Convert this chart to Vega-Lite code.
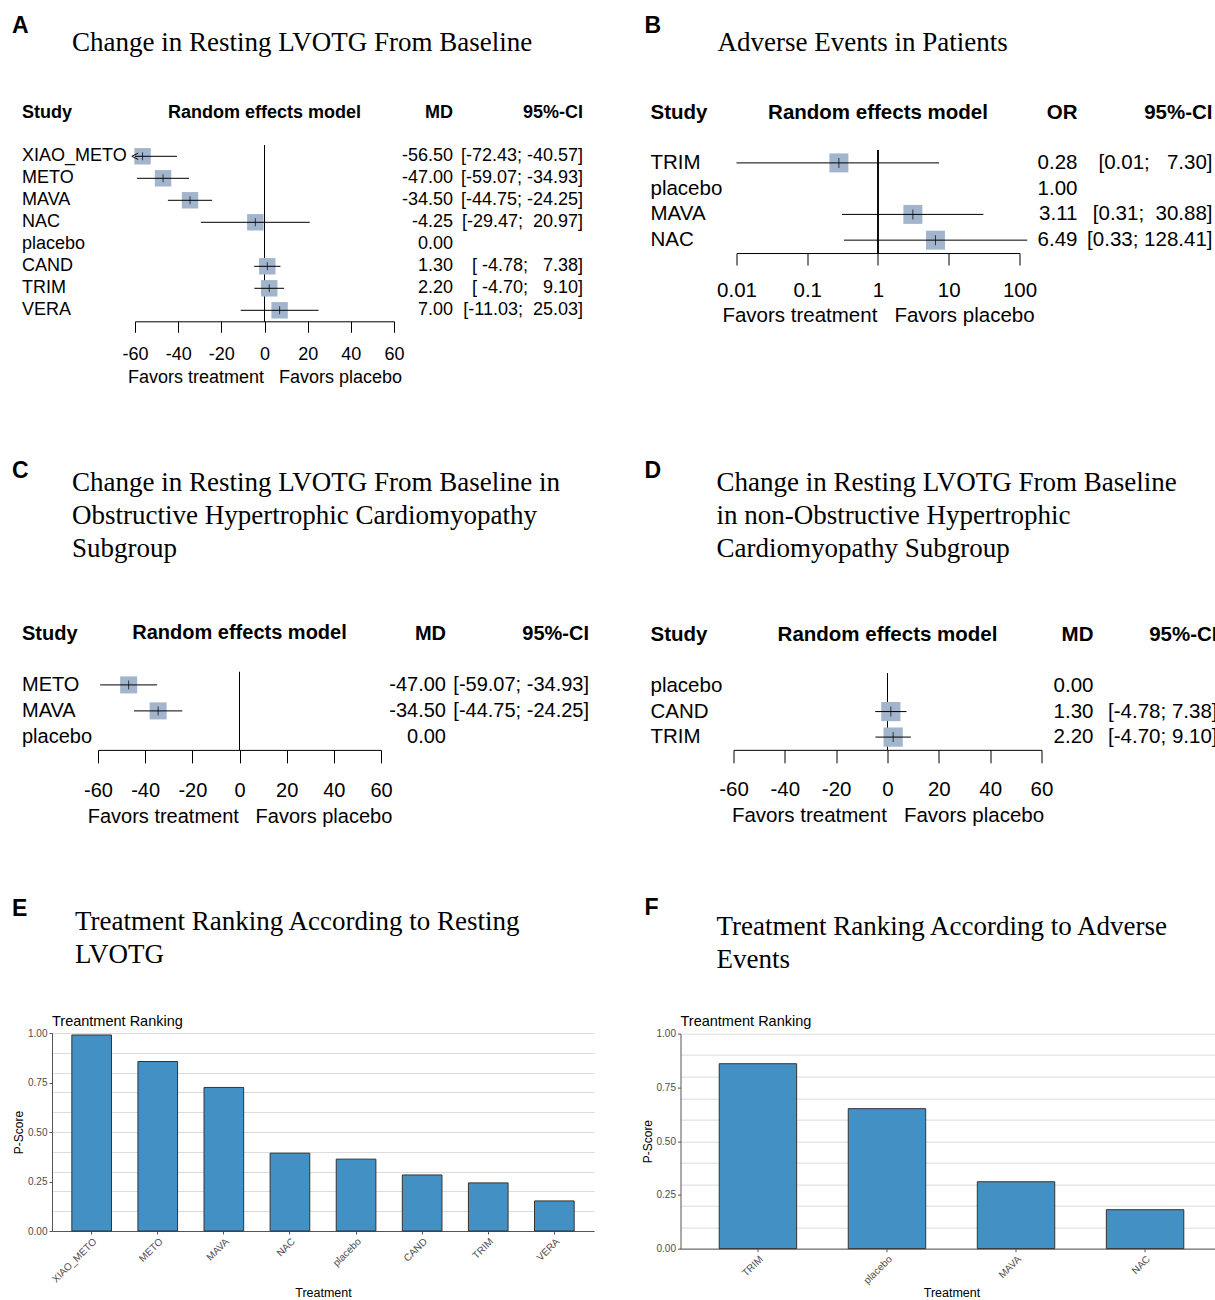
{
  "$schema": "https://vega.github.io/schema/vega-lite/v6.json",
  "padding": {"left": 12, "top": 14, "right": 0, "bottom": 0},
  "config": {"view": {"stroke": null}, "font": "Liberation Sans", "title": {"color": "black"}},
  "datasets": {
    "forestA": [
      {"study": "XIAO_METO", "md": -56.5, "lo": -72.43, "hi": -40.57, "mdText": "-56.50", "ciText": "[-72.43; -40.57]"},
      {"study": "METO", "md": -47.0, "lo": -59.07, "hi": -34.93, "mdText": "-47.00", "ciText": "[-59.07; -34.93]"},
      {"study": "MAVA", "md": -34.5, "lo": -44.75, "hi": -24.25, "mdText": "-34.50", "ciText": "[-44.75; -24.25]"},
      {"study": "NAC", "md": -4.25, "lo": -29.47, "hi": 20.97, "mdText": "-4.25", "ciText": "[-29.47;\u00a0\u00a020.97]"},
      {"study": "placebo", "md": null, "lo": null, "hi": null, "mdText": "0.00", "ciText": ""},
      {"study": "CAND", "md": 1.3, "lo": -4.78, "hi": 7.38, "mdText": "1.30", "ciText": "[\u00a0-4.78;\u00a0\u00a0\u00a07.38]"},
      {"study": "TRIM", "md": 2.2, "lo": -4.70, "hi": 9.10, "mdText": "2.20", "ciText": "[\u00a0-4.70;\u00a0\u00a0\u00a09.10]"},
      {"study": "VERA", "md": 7.0, "lo": -11.03, "hi": 25.03, "mdText": "7.00", "ciText": "[-11.03;\u00a0\u00a025.03]"}
    ],
    "forestB": [
      {"study": "TRIM", "md": 0.28, "lo": 0.01, "hi": 7.30, "mdText": "0.28", "ciText": "[0.01;\u00a0\u00a0\u00a07.30]"},
      {"study": "placebo", "md": null, "lo": null, "hi": null, "mdText": "1.00", "ciText": ""},
      {"study": "MAVA", "md": 3.11, "lo": 0.31, "hi": 30.88, "mdText": "3.11", "ciText": "[0.31;\u00a0\u00a030.88]"},
      {"study": "NAC", "md": 6.49, "lo": 0.33, "hi": 128.41, "mdText": "6.49", "ciText": "[0.33; 128.41]"}
    ],
    "forestC": [
      {"study": "METO", "md": -47.0, "lo": -59.07, "hi": -34.93, "mdText": "-47.00", "ciText": "[-59.07; -34.93]"},
      {"study": "MAVA", "md": -34.5, "lo": -44.75, "hi": -24.25, "mdText": "-34.50", "ciText": "[-44.75; -24.25]"},
      {"study": "placebo", "md": null, "lo": null, "hi": null, "mdText": "0.00", "ciText": ""}
    ],
    "forestD": [
      {"study": "placebo", "md": null, "lo": null, "hi": null, "mdText": "0.00", "ciText": ""},
      {"study": "CAND", "md": 1.3, "lo": -4.78, "hi": 7.38, "mdText": "1.30", "ciText": "[-4.78; 7.38]"},
      {"study": "TRIM", "md": 2.2, "lo": -4.70, "hi": 9.10, "mdText": "2.20", "ciText": "[-4.70; 9.10]"}
    ],
    "rankE": [
      {"treatment": "XIAO_METO", "pscore": 0.99},
      {"treatment": "METO", "pscore": 0.856},
      {"treatment": "MAVA", "pscore": 0.725},
      {"treatment": "NAC", "pscore": 0.393},
      {"treatment": "placebo", "pscore": 0.363},
      {"treatment": "CAND", "pscore": 0.283},
      {"treatment": "TRIM", "pscore": 0.243},
      {"treatment": "VERA", "pscore": 0.152}
    ],
    "rankF": [
      {"treatment": "TRIM", "pscore": 0.86},
      {"treatment": "placebo", "pscore": 0.651},
      {"treatment": "MAVA", "pscore": 0.311},
      {"treatment": "NAC", "pscore": 0.181}
    ]
  },
  "hconcat": [
    {
      "vconcat": [
        {
          "title": {"text": "A", "anchor": "start", "frame": "group", "font": "Liberation Sans", "fontSize": 23, "fontWeight": "bold", "dx": -10, "offset": -9},
          "vconcat": [
            {
              "title": {"text": "Change in Resting LVOTG From Baseline", "anchor": "start", "frame": "group", "font": "Liberation Serif", "fontSize": 27, "fontWeight": "normal", "lineHeight": 33, "dx": 50, "offset": 47},
              "hconcat": [
                {
                  "data": {"name": "forestA"}, "width": 113, "height": 176,
                  "title": {"text": "Study", "anchor": "start", "frame": "group", "fontSize": 18, "fontWeight": "bold", "font": "Liberation Sans", "offset": 23},
                  "mark": {"type": "text", "align": "left", "baseline": "middle", "fontSize": 18, "font": "Liberation Sans", "color": "black"},
                  "encoding": {
                    "y": {"field": "study", "type": "nominal", "sort": null, "scale": {"type": "band", "paddingInner": 0, "paddingOuter": 0, "domain": ["XIAO_METO","METO","MAVA","NAC","placebo","CAND","TRIM","VERA"]}, "axis": null},
                    "x": {"datum": "Study", "type": "nominal", "scale": {"type": "band", "paddingInner": 0, "paddingOuter": 0}, "bandPosition": 0, "axis": null},
                    "text": {"field": "study"}
                  }
                },
                {
                  "data": {"name": "forestA"}, "width": 259, "height": 176,
                  "title": {"text": "Random effects model", "anchor": "middle", "frame": "group", "fontSize": 18, "fontWeight": "bold", "font": "Liberation Sans", "offset": 23},
                  "layer": [
                    {"mark": {"type": "rule", "color": "black", "strokeWidth": 1},
                     "encoding": {"x": {"datum": 0, "type": "quantitative", "scale": {"domain": [-60, 60], "nice": false, "zero": false, "clamp": true},
                       "axis": {"values": [-60, -40, -20, 0, 20, 40, 60], "labelExpr": "toString(datum.value)", "title": "Favors treatment\u00a0\u00a0\u00a0Favors placebo", "grid": false, "domainColor": "black", "tickColor": "black", "tickSize": 11, "labelFont": "Liberation Sans", "labelFontSize": 18, "labelColor": "black", "labelPadding": 13, "labelFlush": false, "labelOverlap": false, "titleFont": "Liberation Sans", "titleFontSize": 18, "titleFontWeight": "normal", "titleColor": "black", "titlePadding": 5}}}},
                    {"transform": [{"filter": "datum.md != null"}],
                     "mark": {"type": "point", "shape": "square", "filled": true, "color": "#a2b5cd", "opacity": 1, "size": 270},
                     "encoding": {"x": {"field": "md", "type": "quantitative"},
                       "y": {"field": "study", "type": "nominal", "sort": null, "scale": {"type": "band", "paddingInner": 0, "paddingOuter": 0, "domain": ["XIAO_METO","METO","MAVA","NAC","placebo","CAND","TRIM","VERA"]}, "axis": null}}},
                    {"transform": [{"filter": "datum.md != null"}],
                     "mark": {"type": "rule", "color": "black", "strokeWidth": 1},
                     "encoding": {"x": {"field": "lo", "type": "quantitative"}, "x2": {"field": "hi"},
                       "y": {"field": "study", "type": "nominal", "sort": null, "axis": null}}},
                    {"transform": [{"filter": "datum.md != null"}],
                     "mark": {"type": "tick", "orient": "vertical", "color": "black", "size": 8, "thickness": 1},
                     "encoding": {"x": {"field": "md", "type": "quantitative"},
                       "y": {"field": "study", "type": "nominal", "sort": null, "axis": null}}},
                    {"transform": [{"filter": "datum.lo != null && datum.lo < -60"}],
                     "mark": {"type": "point", "shape": "M1,-1L-1,0L1,1", "filled": false, "color": "black", "strokeWidth": 1, "size": 40, "opacity": 1},
                     "encoding": {"x": {"field": "lo", "type": "quantitative"},
                       "y": {"field": "study", "type": "nominal", "sort": null, "axis": null}}}
                  ]
                },
                {
                  "data": {"name": "forestA"}, "width": 59, "height": 176,
                  "title": {"text": "MD", "anchor": "end", "frame": "group", "fontSize": 18, "fontWeight": "bold", "font": "Liberation Sans", "offset": 23},
                  "mark": {"type": "text", "align": "right", "baseline": "middle", "fontSize": 18, "font": "Liberation Sans", "color": "black"},
                  "encoding": {
                    "y": {"field": "study", "type": "nominal", "sort": null, "scale": {"type": "band", "paddingInner": 0, "paddingOuter": 0, "domain": ["XIAO_METO","METO","MAVA","NAC","placebo","CAND","TRIM","VERA"]}, "axis": null},
                    "x": {"datum": "MD", "type": "nominal", "scale": {"type": "band", "paddingInner": 0, "paddingOuter": 0}, "bandPosition": 1, "axis": null},
                    "text": {"field": "mdText"}
                  }
                },
                {
                  "data": {"name": "forestA"}, "width": 130, "height": 176,
                  "title": {"text": "95%-CI", "anchor": "end", "frame": "group", "fontSize": 18, "fontWeight": "bold", "font": "Liberation Sans", "offset": 23},
                  "mark": {"type": "text", "align": "right", "baseline": "middle", "fontSize": 18, "font": "Liberation Sans", "color": "black"},
                  "encoding": {
                    "y": {"field": "study", "type": "nominal", "sort": null, "scale": {"type": "band", "paddingInner": 0, "paddingOuter": 0, "domain": ["XIAO_METO","METO","MAVA","NAC","placebo","CAND","TRIM","VERA"]}, "axis": null},
                    "x": {"datum": "95%-CI", "type": "nominal", "scale": {"type": "band", "paddingInner": 0, "paddingOuter": 0}, "bandPosition": 1, "axis": null},
                    "text": {"field": "ciText"}
                  }
                }
              ],
              "spacing": 0, "bounds": "flush"
            }
          ]
        },
        {
          "vconcat": [
            {
              "title": {"text": "C", "anchor": "start", "frame": "group", "font": "Liberation Sans", "fontSize": 23, "fontWeight": "bold", "dx": -10, "offset": -14},
              "vconcat": [
                {
                  "title": {"text": ["Change in Resting LVOTG From Baseline in", "Obstructive Hypertrophic Cardiomyopathy", "Subgroup"], "anchor": "start", "frame": "group", "font": "Liberation Serif", "fontSize": 27, "fontWeight": "normal", "lineHeight": 33, "dx": 50, "offset": 60},
                  "hconcat": [
                    {
                      "data": {"name": "forestC"}, "width": 76, "height": 78,
                      "title": {"text": "Study", "anchor": "start", "frame": "group", "fontSize": 20, "fontWeight": "bold", "font": "Liberation Sans", "offset": 28},
                      "mark": {"type": "text", "align": "left", "baseline": "middle", "fontSize": 20, "font": "Liberation Sans", "color": "black"},
                      "encoding": {
                        "y": {"field": "study", "type": "nominal", "sort": null, "scale": {"type": "band", "paddingInner": 0, "paddingOuter": 0, "domain": ["METO","MAVA","placebo"]}, "axis": null},
                        "x": {"datum": "Study", "type": "nominal", "scale": {"type": "band", "paddingInner": 0, "paddingOuter": 0}, "bandPosition": 0, "axis": null},
                        "text": {"field": "study"}
                      }
                    },
                    {
                      "data": {"name": "forestC"}, "width": 283, "height": 78,
                      "title": {"text": "Random effects model", "anchor": "middle", "frame": "group", "fontSize": 20, "fontWeight": "bold", "font": "Liberation Sans", "offset": 28},
                      "layer": [
                        {"mark": {"type": "rule", "color": "black", "strokeWidth": 1},
                         "encoding": {"x": {"datum": 0, "type": "quantitative", "scale": {"domain": [-60, 60], "nice": false, "zero": false, "clamp": true},
                           "axis": {"values": [-60, -40, -20, 0, 20, 40, 60], "labelExpr": "toString(datum.value)", "title": "Favors treatment\u00a0\u00a0\u00a0Favors placebo", "grid": false, "domainColor": "black", "tickColor": "black", "tickSize": 13, "labelFont": "Liberation Sans", "labelFontSize": 20, "labelColor": "black", "labelPadding": 18, "labelFlush": false, "labelOverlap": false, "titleFont": "Liberation Sans", "titleFontSize": 20, "titleFontWeight": "normal", "titleColor": "black", "titlePadding": 6}}}},
                        {"transform": [{"filter": "datum.md != null"}],
                         "mark": {"type": "point", "shape": "square", "filled": true, "color": "#a2b5cd", "opacity": 1, "size": 290},
                         "encoding": {"x": {"field": "md", "type": "quantitative"},
                           "y": {"field": "study", "type": "nominal", "sort": null, "scale": {"type": "band", "paddingInner": 0, "paddingOuter": 0, "domain": ["METO","MAVA","placebo"]}, "axis": null}}},
                        {"transform": [{"filter": "datum.md != null"}],
                         "mark": {"type": "rule", "color": "black", "strokeWidth": 1},
                         "encoding": {"x": {"field": "lo", "type": "quantitative"}, "x2": {"field": "hi"},
                           "y": {"field": "study", "type": "nominal", "sort": null, "axis": null}}},
                        {"transform": [{"filter": "datum.md != null"}],
                         "mark": {"type": "tick", "orient": "vertical", "color": "black", "size": 9, "thickness": 1},
                         "encoding": {"x": {"field": "md", "type": "quantitative"},
                           "y": {"field": "study", "type": "nominal", "sort": null, "axis": null}}}
                      ]
                    },
                    {
                      "data": {"name": "forestC"}, "width": 65, "height": 78,
                      "title": {"text": "MD", "anchor": "end", "frame": "group", "fontSize": 20, "fontWeight": "bold", "font": "Liberation Sans", "offset": 28},
                      "mark": {"type": "text", "align": "right", "baseline": "middle", "fontSize": 20, "font": "Liberation Sans", "color": "black"},
                      "encoding": {
                        "y": {"field": "study", "type": "nominal", "sort": null, "scale": {"type": "band", "paddingInner": 0, "paddingOuter": 0, "domain": ["METO","MAVA","placebo"]}, "axis": null},
                        "x": {"datum": "MD", "type": "nominal", "scale": {"type": "band", "paddingInner": 0, "paddingOuter": 0}, "bandPosition": 1, "axis": null},
                        "text": {"field": "mdText"}
                      }
                    },
                    {
                      "data": {"name": "forestC"}, "width": 143, "height": 78,
                      "title": {"text": "95%-CI", "anchor": "end", "frame": "group", "fontSize": 20, "fontWeight": "bold", "font": "Liberation Sans", "offset": 28},
                      "mark": {"type": "text", "align": "right", "baseline": "middle", "fontSize": 20, "font": "Liberation Sans", "color": "black"},
                      "encoding": {
                        "y": {"field": "study", "type": "nominal", "sort": null, "scale": {"type": "band", "paddingInner": 0, "paddingOuter": 0, "domain": ["METO","MAVA","placebo"]}, "axis": null},
                        "x": {"datum": "95%-CI", "type": "nominal", "scale": {"type": "band", "paddingInner": 0, "paddingOuter": 0}, "bandPosition": 1, "axis": null},
                        "text": {"field": "ciText"}
                      }
                    }
                  ],
                  "spacing": 0, "bounds": "flush"
                }
              ]
            },
            {
              "title": {"text": "E", "anchor": "start", "frame": "group", "font": "Liberation Sans", "fontSize": 23, "fontWeight": "bold", "dx": -10, "offset": -13},
              "vconcat": [
                {
                  "title": {"text": ["Treatment Ranking According to Resting", "LVOTG"], "anchor": "start", "frame": "group", "font": "Liberation Serif", "fontSize": 27, "fontWeight": "normal", "lineHeight": 33, "dx": 53, "offset": 45},
                  "hconcat": [
                    {"width": 1, "height": 1, "data": {"values": []}, "mark": "point"},
                    {
                      "data": {"name": "rankE"}, "width": 542, "height": 198,
                      "title": {"text": "Treantment Ranking", "anchor": "start", "frame": "group", "fontSize": 14.5, "fontWeight": "normal", "font": "Liberation Sans", "offset": -1},
                      "mark": {"type": "bar", "color": "#4391c4", "stroke": "#333333", "strokeWidth": 1},
                      "encoding": {
                        "x": {"field": "treatment", "type": "nominal", "sort": null, "scale": {"paddingInner": 0.4, "paddingOuter": 0.3},
                          "axis": {"title": ["Treatment", ""], "titleLineHeight": 5, "labelAngle": -45, "labelAlign": "right", "labelBaseline": "top", "labelFontSize": 10, "labelColor": "#4d4d4d", "labelPadding": 2, "tickColor": "#555555", "tickSize": 3, "domainColor": "#555555", "titleFontSize": 12.5, "titleFontWeight": "normal", "titleColor": "black", "titlePadding": 2}},
                        "y": {"field": "pscore", "type": "quantitative", "scale": {"domain": [0, 1], "nice": false},
                          "axis": {"title": "P-Score", "values": [0, 0.1, 0.2, 0.25, 0.3, 0.4, 0.5, 0.6, 0.7, 0.75, 0.8, 0.9, 1],
                            "labelExpr": "(datum.value == 0 || datum.value == 0.25 || datum.value == 0.5 || datum.value == 0.75 || datum.value == 1) ? format(datum.value, '.2f') : ''",
                            "grid": true, "gridColor": "#dcdcdc", "gridWidth": 1,
                            "gridOpacity": {"condition": {"test": "datum.value == 0.25 || datum.value == 0.75", "value": 0}, "value": 1},
                            "tickOpacity": {"condition": {"test": "datum.value == 0 || datum.value == 0.25 || datum.value == 0.5 || datum.value == 0.75 || datum.value == 1", "value": 1}, "value": 0},
                            "tickColor": "#555555", "tickSize": 3, "domainColor": "#555555", "labelColor": "#4d4d4d", "labelFontSize": 10, "labelPadding": 2, "labelOverlap": false, "labelFlush": false,
                            "titleFontSize": 12, "titleFontWeight": "normal", "titleColor": "black", "titlePadding": 2}}
                      }
                    }
                  ],
                  "spacing": 29, "bounds": "flush"
                }
              ]
            }
          ],
          "spacing": 70.1
        }
      ],
      "spacing": 73.6
    },
    {
      "vconcat": [
        {
          "title": {"text": "B", "anchor": "start", "frame": "group", "font": "Liberation Sans", "fontSize": 23, "fontWeight": "bold", "dx": -6, "offset": -9},
          "vconcat": [
            {
              "title": {"text": "Adverse Events in Patients", "anchor": "start", "frame": "group", "font": "Liberation Serif", "fontSize": 27, "fontWeight": "normal", "lineHeight": 33, "dx": 67, "offset": 46},
              "hconcat": [
                {
                  "data": {"name": "forestB"}, "width": 86, "height": 103,
                  "title": {"text": "Study", "anchor": "start", "frame": "group", "fontSize": 20.5, "fontWeight": "bold", "font": "Liberation Sans", "offset": 26.5},
                  "mark": {"type": "text", "align": "left", "baseline": "middle", "fontSize": 20.5, "font": "Liberation Sans", "color": "black"},
                  "encoding": {
                    "y": {"field": "study", "type": "nominal", "sort": null, "scale": {"type": "band", "paddingInner": 0, "paddingOuter": 0, "domain": ["TRIM","placebo","MAVA","NAC"]}, "axis": null},
                    "x": {"datum": "Study", "type": "nominal", "scale": {"type": "band", "paddingInner": 0, "paddingOuter": 0}, "bandPosition": 0, "axis": null},
                    "text": {"field": "study"}
                  }
                },
                {
                  "data": {"name": "forestB"}, "width": 283, "height": 103,
                  "title": {"text": "Random effects model", "anchor": "middle", "frame": "group", "fontSize": 20.5, "fontWeight": "bold", "font": "Liberation Sans", "offset": 26.5},
                  "layer": [
                    {"mark": {"type": "rule", "color": "black", "strokeWidth": 1},
                     "encoding": {"x": {"datum": 1, "type": "quantitative", "scale": {"type": "log", "domain": [0.01, 100], "nice": false},
                       "axis": {"values": [0.01, 0.1, 1, 10, 100], "labelExpr": "toString(datum.value)", "title": "Favors treatment\u00a0\u00a0\u00a0Favors placebo", "grid": false, "domainColor": "black", "tickColor": "black", "tickSize": 12, "labelFont": "Liberation Sans", "labelFontSize": 20.5, "labelColor": "black", "labelPadding": 15, "labelFlush": false, "labelOverlap": false, "titleFont": "Liberation Sans", "titleFontSize": 20.5, "titleFontWeight": "normal", "titleColor": "black", "titlePadding": 4.5}}}},
                    {"transform": [{"filter": "datum.md != null"}],
                     "mark": {"type": "point", "shape": "square", "filled": true, "color": "#a2b5cd", "opacity": 1, "size": 360},
                     "encoding": {"x": {"field": "md", "type": "quantitative"},
                       "y": {"field": "study", "type": "nominal", "sort": null, "scale": {"type": "band", "paddingInner": 0, "paddingOuter": 0, "domain": ["TRIM","placebo","MAVA","NAC"]}, "axis": null}}},
                    {"transform": [{"filter": "datum.md != null"}],
                     "mark": {"type": "rule", "color": "black", "strokeWidth": 1},
                     "encoding": {"x": {"field": "lo", "type": "quantitative"}, "x2": {"field": "hi"},
                       "y": {"field": "study", "type": "nominal", "sort": null, "axis": null}}},
                    {"transform": [{"filter": "datum.md != null"}],
                     "mark": {"type": "tick", "orient": "vertical", "color": "black", "size": 10, "thickness": 1},
                     "encoding": {"x": {"field": "md", "type": "quantitative"},
                       "y": {"field": "study", "type": "nominal", "sort": null, "axis": null}}}
                  ]
                },
                {
                  "data": {"name": "forestB"}, "width": 58, "height": 103,
                  "title": {"text": "OR", "anchor": "end", "frame": "group", "fontSize": 20.5, "fontWeight": "bold", "font": "Liberation Sans", "offset": 26.5},
                  "mark": {"type": "text", "align": "right", "baseline": "middle", "fontSize": 20.5, "font": "Liberation Sans", "color": "black"},
                  "encoding": {
                    "y": {"field": "study", "type": "nominal", "sort": null, "scale": {"type": "band", "paddingInner": 0, "paddingOuter": 0, "domain": ["TRIM","placebo","MAVA","NAC"]}, "axis": null},
                    "x": {"datum": "OR", "type": "nominal", "scale": {"type": "band", "paddingInner": 0, "paddingOuter": 0}, "bandPosition": 1, "axis": null},
                    "text": {"field": "mdText"}
                  }
                },
                {
                  "data": {"name": "forestB"}, "width": 135, "height": 103,
                  "title": {"text": "95%-CI", "anchor": "end", "frame": "group", "fontSize": 20.5, "fontWeight": "bold", "font": "Liberation Sans", "offset": 26.5},
                  "mark": {"type": "text", "align": "right", "baseline": "middle", "fontSize": 20.5, "font": "Liberation Sans", "color": "black"},
                  "encoding": {
                    "y": {"field": "study", "type": "nominal", "sort": null, "scale": {"type": "band", "paddingInner": 0, "paddingOuter": 0, "domain": ["TRIM","placebo","MAVA","NAC"]}, "axis": null},
                    "x": {"datum": "95%-CI", "type": "nominal", "scale": {"type": "band", "paddingInner": 0, "paddingOuter": 0}, "bandPosition": 1, "axis": null},
                    "text": {"field": "ciText"}
                  }
                }
              ],
              "spacing": 0, "bounds": "flush"
            }
          ]
        },
        {
          "vconcat": [
            {
              "title": {"text": "D", "anchor": "start", "frame": "group", "font": "Liberation Sans", "fontSize": 23, "fontWeight": "bold", "dx": -6, "offset": -14},
              "vconcat": [
                {
                  "title": {"text": ["Change in Resting LVOTG From Baseline", "in non-Obstructive Hypertrophic", "Cardiomyopathy Subgroup"], "anchor": "start", "frame": "group", "font": "Liberation Serif", "fontSize": 27, "fontWeight": "normal", "lineHeight": 33, "dx": 66, "offset": 62},
                  "hconcat": [
                    {
                      "data": {"name": "forestD"}, "width": 83, "height": 76.5,
                      "title": {"text": "Study", "anchor": "start", "frame": "group", "fontSize": 20.5, "fontWeight": "bold", "font": "Liberation Sans", "offset": 27.5},
                      "mark": {"type": "text", "align": "left", "baseline": "middle", "fontSize": 20.5, "font": "Liberation Sans", "color": "black"},
                      "encoding": {
                        "y": {"field": "study", "type": "nominal", "sort": null, "scale": {"type": "band", "paddingInner": 0, "paddingOuter": 0, "domain": ["placebo","CAND","TRIM"]}, "axis": null},
                        "x": {"datum": "Study", "type": "nominal", "scale": {"type": "band", "paddingInner": 0, "paddingOuter": 0}, "bandPosition": 0, "axis": null},
                        "text": {"field": "study"}
                      }
                    },
                    {
                      "data": {"name": "forestD"}, "width": 308, "height": 76.5,
                      "title": {"text": "Random effects model", "anchor": "middle", "frame": "group", "fontSize": 20.5, "fontWeight": "bold", "font": "Liberation Sans", "offset": 27.5},
                      "layer": [
                        {"mark": {"type": "rule", "color": "black", "strokeWidth": 1},
                         "encoding": {"x": {"datum": 0, "type": "quantitative", "scale": {"domain": [-60, 60], "nice": false, "zero": false, "clamp": true},
                           "axis": {"values": [-60, -40, -20, 0, 20, 40, 60], "labelExpr": "toString(datum.value)", "title": "Favors treatment\u00a0\u00a0\u00a0Favors placebo", "grid": false, "domainColor": "black", "tickColor": "black", "tickSize": 13, "labelFont": "Liberation Sans", "labelFontSize": 20.5, "labelColor": "black", "labelPadding": 17, "labelFlush": false, "labelOverlap": false, "titleFont": "Liberation Sans", "titleFontSize": 20.5, "titleFontWeight": "normal", "titleColor": "black", "titlePadding": 5}}}},
                        {"transform": [{"filter": "datum.md != null"}],
                         "mark": {"type": "point", "shape": "square", "filled": true, "color": "#a2b5cd", "opacity": 1, "size": 370},
                         "encoding": {"x": {"field": "md", "type": "quantitative"},
                           "y": {"field": "study", "type": "nominal", "sort": null, "scale": {"type": "band", "paddingInner": 0, "paddingOuter": 0, "domain": ["placebo","CAND","TRIM"]}, "axis": null}}},
                        {"transform": [{"filter": "datum.md != null"}],
                         "mark": {"type": "rule", "color": "black", "strokeWidth": 1},
                         "encoding": {"x": {"field": "lo", "type": "quantitative"}, "x2": {"field": "hi"},
                           "y": {"field": "study", "type": "nominal", "sort": null, "axis": null}}},
                        {"transform": [{"filter": "datum.md != null"}],
                         "mark": {"type": "tick", "orient": "vertical", "color": "black", "size": 10, "thickness": 1},
                         "encoding": {"x": {"field": "md", "type": "quantitative"},
                           "y": {"field": "study", "type": "nominal", "sort": null, "axis": null}}}
                      ]
                    },
                    {
                      "data": {"name": "forestD"}, "width": 52, "height": 76.5,
                      "title": {"text": "MD", "anchor": "end", "frame": "group", "fontSize": 20.5, "fontWeight": "bold", "font": "Liberation Sans", "offset": 27.5},
                      "mark": {"type": "text", "align": "right", "baseline": "middle", "fontSize": 20.5, "font": "Liberation Sans", "color": "black"},
                      "encoding": {
                        "y": {"field": "study", "type": "nominal", "sort": null, "scale": {"type": "band", "paddingInner": 0, "paddingOuter": 0, "domain": ["placebo","CAND","TRIM"]}, "axis": null},
                        "x": {"datum": "MD", "type": "nominal", "scale": {"type": "band", "paddingInner": 0, "paddingOuter": 0}, "bandPosition": 1, "axis": null},
                        "text": {"field": "mdText"}
                      }
                    },
                    {
                      "data": {"name": "forestD"}, "width": 124, "height": 76.5,
                      "title": {"text": "95%-CI", "anchor": "end", "frame": "group", "fontSize": 20.5, "fontWeight": "bold", "font": "Liberation Sans", "offset": 27.5},
                      "mark": {"type": "text", "align": "right", "baseline": "middle", "fontSize": 20.5, "font": "Liberation Sans", "color": "black"},
                      "encoding": {
                        "y": {"field": "study", "type": "nominal", "sort": null, "scale": {"type": "band", "paddingInner": 0, "paddingOuter": 0, "domain": ["placebo","CAND","TRIM"]}, "axis": null},
                        "x": {"datum": "95%-CI", "type": "nominal", "scale": {"type": "band", "paddingInner": 0, "paddingOuter": 0}, "bandPosition": 1, "axis": null},
                        "text": {"field": "ciText"}
                      }
                    }
                  ],
                  "spacing": 0, "bounds": "flush"
                }
              ]
            },
            {
              "title": {"text": "F", "anchor": "start", "frame": "group", "font": "Liberation Sans", "fontSize": 23, "fontWeight": "bold", "dx": -6, "offset": -7},
              "vconcat": [
                {
                  "title": {"text": ["Treatment Ranking According to Adverse", "Events"], "anchor": "start", "frame": "group", "font": "Liberation Serif", "fontSize": 27, "fontWeight": "normal", "lineHeight": 33, "dx": 66, "offset": 40},
                  "hconcat": [
                    {"width": 1, "height": 1, "data": {"values": []}, "mark": "point"},
                    {
                      "data": {"name": "rankF"}, "width": 542, "height": 215,
                      "title": {"text": "Treantment Ranking", "anchor": "start", "frame": "group", "fontSize": 14.5, "fontWeight": "normal", "font": "Liberation Sans", "offset": -1},
                      "mark": {"type": "bar", "color": "#4391c4", "stroke": "#333333", "strokeWidth": 1},
                      "encoding": {
                        "x": {"field": "treatment", "type": "nominal", "sort": null, "scale": {"paddingInner": 0.4, "paddingOuter": 0.3},
                          "axis": {"title": "Treatment", "labelAngle": -45, "labelAlign": "right", "labelBaseline": "top", "labelFontSize": 10, "labelColor": "#4d4d4d", "labelPadding": 2, "tickColor": "#555555", "tickSize": 3, "domainColor": "#555555", "titleFontSize": 12.5, "titleFontWeight": "normal", "titleColor": "black", "titlePadding": 1}},
                        "y": {"field": "pscore", "type": "quantitative", "scale": {"domain": [0, 1], "nice": false},
                          "axis": {"title": "P-Score", "values": [0, 0.1, 0.2, 0.25, 0.3, 0.4, 0.5, 0.6, 0.7, 0.75, 0.8, 0.9, 1],
                            "labelExpr": "(datum.value == 0 || datum.value == 0.25 || datum.value == 0.5 || datum.value == 0.75 || datum.value == 1) ? format(datum.value, '.2f') : ''",
                            "grid": true, "gridColor": "#dcdcdc", "gridWidth": 1,
                            "gridOpacity": {"condition": {"test": "datum.value == 0.25 || datum.value == 0.75", "value": 0}, "value": 1},
                            "tickOpacity": {"condition": {"test": "datum.value == 0 || datum.value == 0.25 || datum.value == 0.5 || datum.value == 0.75 || datum.value == 1", "value": 1}, "value": 0},
                            "tickColor": "#555555", "tickSize": 3, "domainColor": "#555555", "labelColor": "#4d4d4d", "labelFontSize": 10, "labelPadding": 2, "labelOverlap": false, "labelFlush": false,
                            "titleFontSize": 12, "titleFontWeight": "normal", "titleColor": "black", "titlePadding": 2}}
                      }
                    }
                  ],
                  "spacing": 29, "bounds": "flush"
                }
              ]
            }
          ],
          "spacing": 70.3
        }
      ],
      "spacing": 133.3
    }
  ],
  "spacing": 46.5,
  "align": "all",
  "center": true
}
